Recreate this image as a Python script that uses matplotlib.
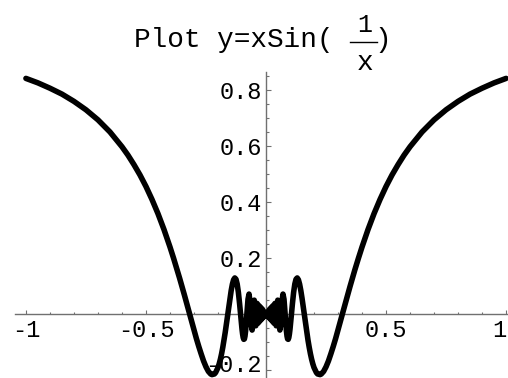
import numpy as np
import matplotlib
matplotlib.use("Agg")
import matplotlib.pyplot as plt
from matplotlib.lines import Line2D

# right half of y = x sin(1/x); the curve is even, so the left half is its mirror
x_half = [0.0, 0.01248, 0.01299, 0.01355, 0.01415, 0.01481, 0.01553, 0.01632,
          0.01721, 0.01819, 0.01929, 0.02054, 0.02195, 0.02358, 0.02546, 0.02768,
          0.03032, 0.03351, 0.03745, 0.03979, 0.04244, 0.04547, 0.04897, 0.05305,
          0.0555, 0.05787, 0.0605, 0.06366, 0.067, 0.07074, 0.075, 0.07958,
          0.085, 0.0875, 0.09, 0.0925, 0.095, 0.0975, 0.1, 0.103, 0.1061,
          0.11, 0.115, 0.12, 0.125, 0.13, 0.135, 0.14, 0.145, 0.15, 0.1592,
          0.165, 0.17, 0.175, 0.18, 0.185, 0.19, 0.195, 0.2, 0.21, 0.215,
          0.225, 0.23, 0.24, 0.25, 0.26, 0.27, 0.28, 0.29, 0.3, 0.31, 0.3183,
          0.33, 0.34, 0.35, 0.36, 0.37, 0.385, 0.4, 0.425, 0.45, 0.475, 0.5,
          0.525, 0.55, 0.575, 0.6, 0.65, 0.7, 0.75, 0.8, 0.85, 0.9, 0.95, 1.0]
y_half = [0.0, -0.01248, 0.01299, -0.01355, 0.01415, -0.01481, 0.01553, -0.01632,
          0.01721, -0.01819, 0.01929, -0.02054, 0.02195, -0.02358, 0.02546, -0.02768,
          0.03032, -0.03351, 0.03745, 0.0, -0.04244, 0.0, 0.04897, 0.0,
          -0.0410, -0.05787, -0.0442, 0.0, 0.0472, 0.07074, 0.0521, 0.0,
          -0.0611, -0.0794, -0.0894, -0.0909, -0.0847, -0.0720, -0.0544, -0.0288, 0.0,
          0.0361, 0.0766, 0.1064, 0.1237, 0.1283, 0.1218, 0.1061, 0.0835, 0.0561, 0.0,
          -0.0364, -0.0667, -0.0943, -0.1196, -0.1424, -0.1620, -0.1784, -0.1918, -0.2097, -0.2146,
          -0.2169, -0.2150, -0.2054, -0.1892, -0.1684, -0.1432, -0.1165, -0.0880, -0.0572, -0.0261, 0.0,
          0.0367, 0.0677, 0.098, 0.1278, 0.157, 0.1988, 0.239, 0.3014, 0.358, 0.4088, 0.455,
          0.4962, 0.533, 0.5669, 0.597, 0.6497, 0.693, 0.7289, 0.759, 0.7849, 0.806, 0.8250, 0.841]

x_major = [-1, -0.5, 0.5, 1]
x_labels = ["-1", "-0.5", "0.5", "1"]
x_minor = [-0.9, -0.8, -0.7, -0.6, -0.4, -0.3, -0.2, -0.1,
           0.1, 0.2, 0.3, 0.4, 0.6, 0.7, 0.8, 0.9]
y_major = [-0.2, 0.2, 0.4, 0.6, 0.8]
y_labels = ["-0.2", "0.2", "0.4", "0.6", "0.8"]
y_minor = [-0.15, -0.1, -0.05, 0.05, 0.1, 0.15, 0.25, 0.3, 0.35,
           0.45, 0.5, 0.55, 0.65, 0.7, 0.75, 0.85]

xs = np.concatenate([-np.array(x_half)[::-1], np.array(x_half)[1:]])
ys = np.concatenate([np.array(y_half)[::-1], np.array(y_half)[1:]])

W, H = 508, 378
fig = plt.figure(figsize=(W / 100, H / 100), dpi=100)
ax = fig.add_axes([0, 0, 1, 1])
ax.patch.set_alpha(0)

ax.plot(xs, ys, color="black", lw=4.0, solid_capstyle="round",
        solid_joinstyle="round", zorder=5)

ax.set_xlim(-1.108, 1.008)
ax.set_ylim(-0.229, 1.121)

axis_gray = "#707070"
for side in ["top", "right"]:
    ax.spines[side].set_visible(False)
ax.spines["left"].set_position(("data", 0))
ax.spines["bottom"].set_position(("data", 0))
ax.spines["left"].set_bounds(-0.229, 0.864)
ax.spines["bottom"].set_bounds(-1.046, 1.008)
for side in ["left", "bottom"]:
    ax.spines[side].set_color(axis_gray)
    ax.spines[side].set_linewidth(1.0)
    ax.spines[side].set_zorder(1)
ax.set_axisbelow(True)

# the outermost labels ("1" on x, "-0.2" on y) sit at the figure edges,
# so they are drawn by hand and nudged inward
ax.set_xticks(x_major)
ax.set_xticklabels(x_labels[:-1] + [""])
ax.set_xticks(x_minor, minor=True)
ax.set_yticks(y_major)
ax.set_yticklabels([""] + y_labels[1:])
ax.set_yticks(y_minor, minor=True)

for lab in ax.get_xticklabels() + ax.get_yticklabels():
    lab.set_fontfamily("Liberation Mono")
    lab.set_fontsize(17)

ax.annotate(x_labels[-1], xy=(x_major[-1], 0), xytext=(-6.5, -5.3),
            textcoords="offset pixels", ha="center", va="top",
            family="Liberation Mono", fontsize=17, zorder=0.5)
ax.annotate(y_labels[0], xy=(0, ax.get_ylim()[0]), xytext=(-4.2, 0.5),
            textcoords="offset pixels", ha="right", va="bottom",
            family="Liberation Mono", fontsize=17, zorder=0.5)

ax.tick_params(axis="both", which="both", direction="in", color=axis_gray, width=0.8)
ax.tick_params(axis="x", which="major", length=3.2, pad=3.5)
ax.tick_params(axis="x", which="minor", length=1.8)
ax.tick_params(axis="y", which="major", length=3.5, pad=3)
ax.tick_params(axis="y", which="minor", length=2.0)

# title with a stacked fraction for 1/x
def fx(px):
    return px / W

def fy(py):
    return 1 - py / H

title_font = dict(family="Liberation Mono", size=20, color="black")
fig.text(fx(134), fy(46.7), "Plot y=xSin(", ha="left", va="baseline", **title_font)
fig.text(fx(365), fy(31.7), "1", ha="center", va="baseline", size=18,
         family="Liberation Mono", color="black")
fig.text(fx(365), fy(70), "x", ha="center", va="baseline", **title_font)
fig.text(fx(383), fy(46.7), ")", ha="center", va="baseline", **title_font)
fig.add_artist(Line2D([fx(350), fx(377)], [fy(41.7), fy(41.7)],
                      color="black", lw=1.0, transform=fig.transFigure))

fig.savefig("out.png", dpi=100)
